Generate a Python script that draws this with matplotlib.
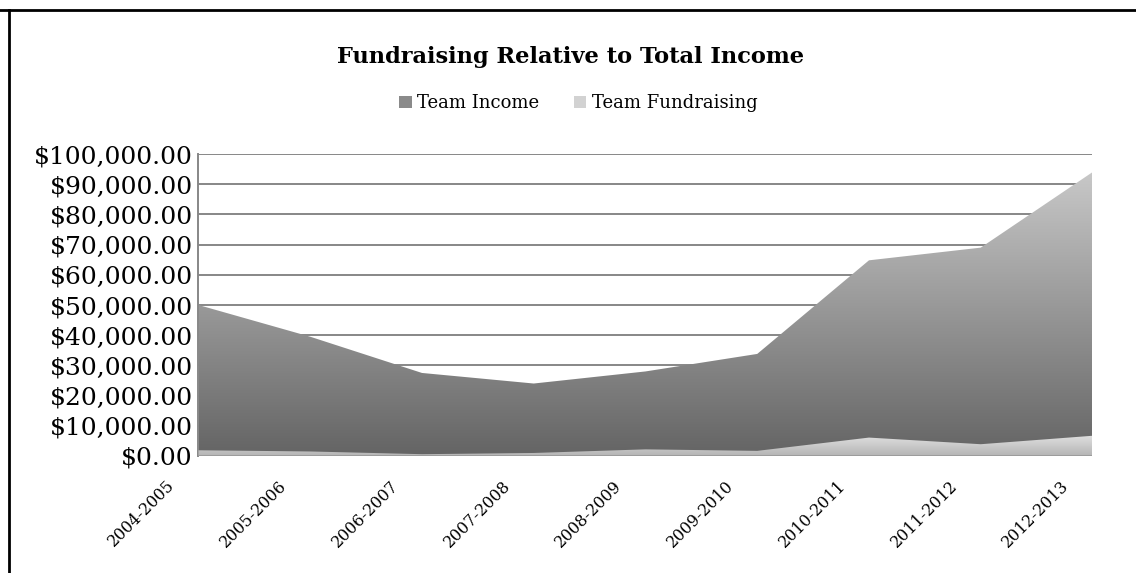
import matplotlib
matplotlib.use('Agg')
import matplotlib.pyplot as plt
import matplotlib.transforms as mtransforms
import numpy as np
from matplotlib.colors import LinearSegmentedColormap
from matplotlib.patches import Patch
from matplotlib.lines import Line2D

# data
seasons = ["2004-2005", "2005-2006", "2006-2007", "2007-2008", "2008-2009",
           "2009-2010", "2010-2011", "2011-2012", "2012-2013"]
team_income = [50000, 39500, 27500, 24000, 28000, 33800, 64800, 69000, 94000]
team_fundraising = [1900, 1500, 600, 1000, 2200, 1700, 6100, 3900, 6700]
y_ticks = list(range(0, 100001, 10000))

plt.rcParams['font.family'] = ['DejaVu Serif']


def gradient_area(ax, x, y, top_color, bottom_color, zorder):
    # fill the area under y with a vertical gradient, clipped to the polygon
    poly = ax.fill_between(x, 0, y, facecolor='none', linewidth=0, zorder=zorder)
    cmap = LinearSegmentedColormap.from_list('g', [bottom_color, top_color])
    grad = np.linspace(0, 1, 256).reshape(-1, 1)
    img = ax.imshow(grad, cmap=cmap, aspect='auto', origin='lower',
                    extent=[x[0], x[-1], 0, max(y)], zorder=zorder,
                    interpolation='bilinear')
    img.set_clip_path(poly.get_paths()[0], ax.transData)
    return img


fig = plt.figure(figsize=(11.36, 5.73), dpi=100)
ax = fig.add_axes([0.1747, 0.2042, 0.787, 0.527])
x = np.arange(len(seasons))

for v in y_ticks:
    ax.axhline(v, color='#878787', linewidth=1.4, zorder=1)

gradient_area(ax, x, team_income, '#c8c8c8', '#646464', 2)
gradient_area(ax, x, team_fundraising, '#e0e0e0', '#b4b4b4', 3)
ax.axhline(0, color='#9a9a9a', linewidth=2.0, zorder=4)

ax.set_xlim(0, len(seasons) - 1)
ax.set_ylim(0, 100000)
ax.set_yticks(y_ticks)
ax.set_yticklabels(["${:,.2f}".format(v) for v in y_ticks], fontsize=18)
ax.set_xticks(x)
ax.set_xticklabels(seasons, rotation=45, ha='right', va='center',
                   rotation_mode='anchor', fontsize=11.5)
ax.tick_params(length=0, pad=4)
ax.tick_params(axis='x', pad=0)
shift = mtransforms.ScaledTranslation(-0.26, -0.27, fig.dpi_scale_trans)
for lbl in ax.get_xticklabels():
    lbl.set_transform(lbl.get_transform() + shift)
for s in ['top', 'right', 'bottom']:
    ax.spines[s].set_visible(False)
ax.spines['left'].set_color('#878787')
ax.spines['left'].set_linewidth(1.4)

fig.text(0.502, 0.90, "Fundraising Relative to Total Income", ha='center', va='center',
         fontsize=16.2, fontweight='bold')

handles = [Patch(facecolor='#8a8a8a', edgecolor='none'),
           Patch(facecolor='#d2d2d2', edgecolor='none')]
fig.legend(handles, ["Team Income", "Team Fundraising"], loc='center',
           bbox_to_anchor=(0.509, 0.82), ncol=2, frameon=False, fontsize=13,
           handlelength=0.7, handleheight=0.7, handletextpad=0.3, columnspacing=1.9)

# chart border (top and left edges visible)
fig.add_artist(Line2D([0, 1], [1 - 9.5 / 573, 1 - 9.5 / 573], color='black',
                      linewidth=2, transform=fig.transFigure))
fig.add_artist(Line2D([8.5 / 1136, 8.5 / 1136], [0, 1 - 9.5 / 573], color='black',
                      linewidth=2, transform=fig.transFigure))

fig.savefig('out.png', dpi=100)
